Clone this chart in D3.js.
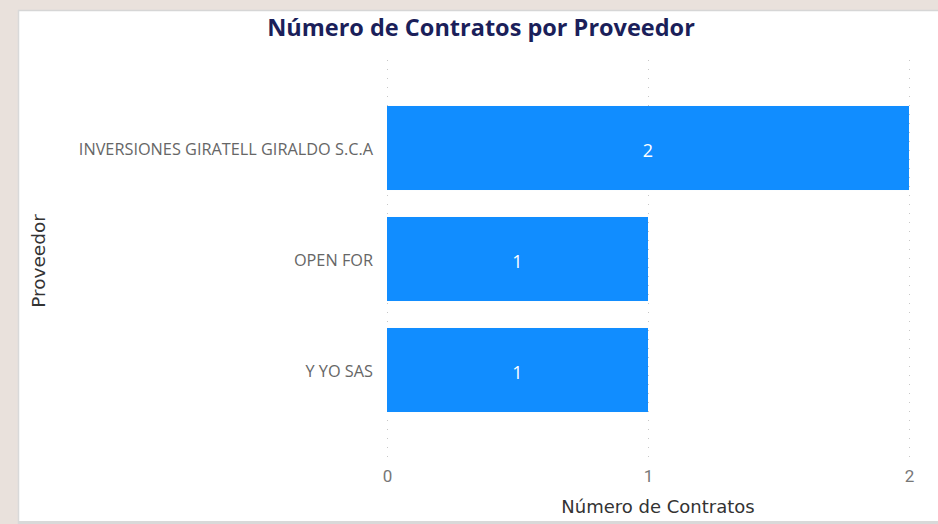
<!DOCTYPE html>
<html>
<head>
<meta charset="utf-8">
<script src="https://cdn.jsdelivr.net/npm/d3@7/dist/d3.min.js"></script>
<style>
  html, body { margin: 0; padding: 0; background: #e9e1dc; }
  svg { display: block; }
</style>
</head>
<body>
<svg id="chart" width="938" height="524"></svg>
<script>
const categories = ["INVERSIONES GIRATELL GIRALDO S.C.A", "OPEN FOR", "Y YO SAS"];
const values = [2, 1, 1];
const xTicks = [0, 1, 2];
const title = "Número de Contratos por Proveedor";
const xTitle = "Número de Contratos";
const yTitle = "Proveedor";

const svg = d3.select("#chart");
const W = 938, H = 524;

// panel
svg.append("rect").attr("x", 18).attr("y", 10).attr("width", W - 18).attr("height", H - 12)
  .attr("fill", "#ffffff");
svg.append("line").attr("x1", 18).attr("x2", W).attr("y1", 10.5).attr("y2", 10.5)
  .attr("stroke", "#d6d6d6").attr("stroke-width", 1.5);
svg.append("line").attr("x1", 18.5).attr("x2", 18.5).attr("y1", 10).attr("y2", H)
  .attr("stroke", "#d9d9d9").attr("stroke-width", 1.5);
svg.append("rect").attr("x", 18).attr("y", H - 3).attr("width", W - 18).attr("height", 3)
  .attr("fill", "#d9d9d9");

const x = d3.scaleLinear().domain([0, 2]).range([387, 909]);
const y = d3.scaleBand().domain(categories).range([92.5, 425.5])
  .paddingInner(0.243).paddingOuter(0.1215);

// gridlines
svg.append("g").selectAll("line").data(xTicks).join("line")
  .attr("x1", d => x(d) + 0.5).attr("x2", d => x(d) + 0.5)
  .attr("y1", 60).attr("y2", 463)
  .attr("stroke", "#c8c8c8").attr("stroke-width", 1)
  .attr("stroke-dasharray", "1,8");

// bars
svg.append("g").selectAll("rect").data(values).join("rect")
  .attr("x", x(0))
  .attr("y", (d, i) => y(categories[i]))
  .attr("width", d => x(d) - x(0))
  .attr("height", y.bandwidth())
  .attr("fill", "#118dff");

// data labels
svg.append("g").selectAll("text").data(values).join("text")
  .attr("x", d => (x(0) + x(d)) / 2)
  .attr("y", (d, i) => y(categories[i]) + y.bandwidth() / 2 + 3)
  .attr("dy", "0.35em")
  .attr("text-anchor", "middle")
  .attr("fill", "#ffffff")
  .style("font-family", "'Open Sans', sans-serif")
  .style("font-size", "18px")
  .text(d => d);

// y axis
const yAxis = d3.axisLeft(y).tickSize(0).tickPadding(14);
const gy = svg.append("g").attr("transform", `translate(${x(0)},2)`).call(yAxis);
gy.select(".domain").remove();
gy.selectAll("text").attr("fill", "#666666")
  .style("font-family", "'Open Sans', sans-serif").style("font-size", "16.3px");

// x axis
const xAxis = d3.axisBottom(x).tickValues(xTicks).tickSize(0).tickPadding(0).tickFormat(d3.format("d"));
const gx = svg.append("g").attr("transform", `translate(0,470)`).call(xAxis);
gx.select(".domain").remove();
gx.selectAll("text").attr("fill", "#777777")
  .style("font-family", "Roboto, sans-serif").style("font-size", "17px");

// title
svg.append("text").attr("x", 481).attr("y", 36).attr("text-anchor", "middle")
  .attr("fill", "#1b1f5a")
  .style("font-family", "'Open Sans', sans-serif").style("font-weight", "700").style("font-size", "23.5px")
  .text(title);

// x title
svg.append("text").attr("x", 658).attr("y", 513).attr("text-anchor", "middle")
  .attr("fill", "#333333")
  .style("font-family", "'DejaVu Sans', sans-serif").style("font-size", "18px")
  .text(xTitle);

// y title
svg.append("text").attr("transform", "translate(45,261) rotate(-90)").attr("text-anchor", "middle")
  .attr("fill", "#333333")
  .style("font-family", "'DejaVu Sans', sans-serif").style("font-size", "18.5px")
  .text(yTitle);
</script>
</body>
</html>
